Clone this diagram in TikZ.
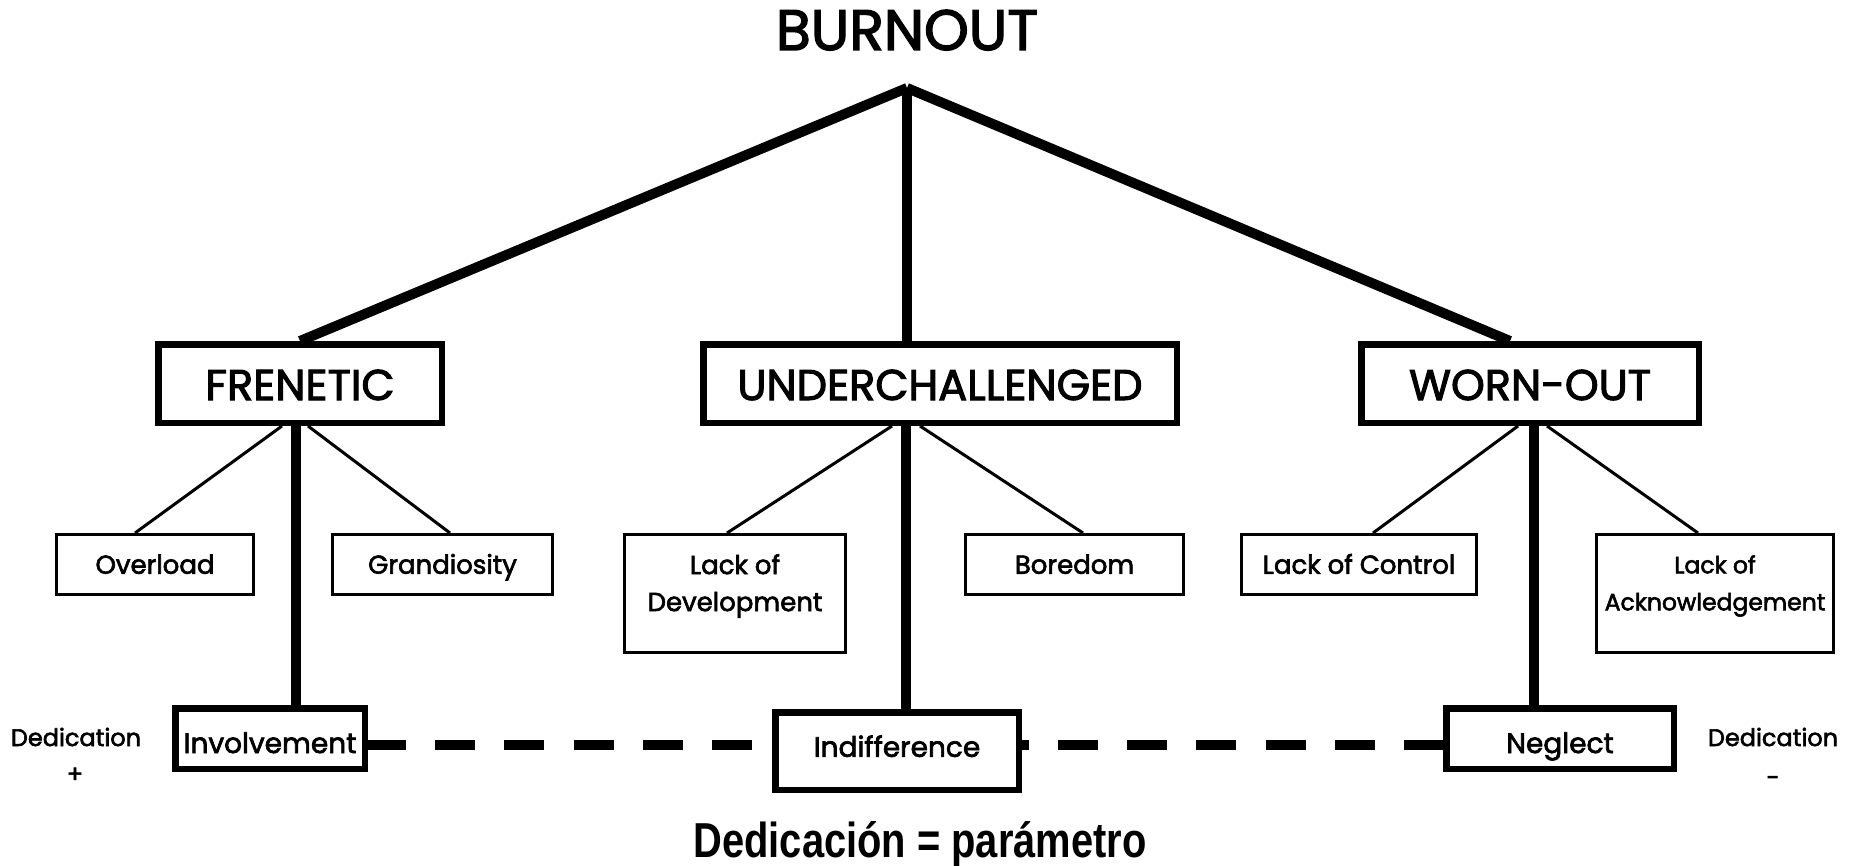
\documentclass[tikz,border=0pt]{standalone}
\usepackage{graphicx}
\usepackage{fontspec}
\setmainfont{Poppins}[FakeBold=2.4]
\newfontfamily\captionfont{Liberation Sans}
\usetikzlibrary{backgrounds}
\begin{document}
\begin{tikzpicture}[x=1pt,y=-1pt,
  heavybox/.style={draw, line width=6.5pt, fill=white, inner sep=0pt,
    text height=33pt, text depth=0pt, font=\fontsize{43}{47}\selectfont},
  causebox/.style={draw, line width=3pt, fill=white, inner sep=0pt,
    text height=18.5pt, text depth=0pt, font=\fontsize{26}{30}\selectfont},
  levelbox/.style={draw, line width=6.5pt, fill=white, inner sep=0pt,
    text height=29pt, text depth=0pt, font=\fontsize{28}{32}\selectfont},
  boxtext/.style={inner sep=0pt, align=center, font=\fontsize{26}{37}\selectfont},
  trunk/.style={line width=10pt},
  branch/.style={line width=3pt},
  scaleline/.style={line width=10pt, dash pattern=on 40pt off 29.2pt, dash phase=2pt},
  sidelabel/.style={inner sep=0pt, font=\fontsize{24}{28}\selectfont},
]
\useasboundingbox (0,0) rectangle (1854,866);

% title and apex of the tree
\node[inner sep=0pt, anchor=base, font=\fontsize{57}{62}\selectfont] (burnout) at (907,50) {BURNOUT};
\coordinate (apex) at (907,88);

% the three burnout subtypes
\node[heavybox, minimum width=283.5pt, minimum height=78.5pt] (fren)  at (300,383.5) {FRENETIC};
\node[heavybox, minimum width=473.5pt, minimum height=78.5pt] (under) at (940,383.5) {UNDERCHALLENGED};
\node[heavybox, minimum width=337.5pt, minimum height=78.5pt] (worn)  at (1530,383.5) {WORN-OUT};

% causes
\node[causebox, minimum width=197pt, minimum height=60pt] (over)  at (155,564.5) {Overload};
\node[causebox, minimum width=220pt, minimum height=60pt] (grand) at (442.5,564.5) {Grandiosity};
\node[causebox, minimum width=221pt, minimum height=118pt] (lackdev) at (735,593.5) {};
\node[boxtext] (lackdevtext) at (735,586) {Lack of\\Development};
\node[causebox, minimum width=218pt, minimum height=60pt] (bore) at (1074.5,564.5) {Boredom};
\node[causebox, minimum width=235pt, minimum height=60pt] (lackctl) at (1359,564.5) {Lack of Control};
\node[causebox, minimum width=237pt, minimum height=118pt] (lackack) at (1715,593.5) {};
\node[boxtext, font=\fontsize{23.5}{37}\selectfont] (lackacktext) at (1715,586) {Lack of\\Acknowledgement};

% coping styles along the dedication scale
\node[levelbox, minimum width=189.5pt, minimum height=60.5pt] (inv) at (270,738.5) {Involvement};
\node[levelbox, minimum width=243.5pt, minimum height=77.5pt,
  text height=20pt, text depth=8.4pt] (indif) at (897,751) {Indifference};
\node[levelbox, minimum width=227.5pt, minimum height=60.5pt] (neg) at (1560,738.5) {Neglect};

% scale ends
\node[sidelabel] (dedl) at (76,737) {Dedication};
\node[sidelabel] (plus) at (75,775) {+};
\node[sidelabel] (dedr) at (1773,737) {Dedication};
\node[sidelabel] (minus) at (1773,781) {-};

% caption
\node[inner sep=0pt, anchor=base] (param) at (920,857)
  {\resizebox{453pt}{36pt}{\captionfont\bfseries Dedicación = parámetro}};

% stems below the subtype boxes
\coordinate (fstem) at ([xshift=-4pt]fren.south);
\coordinate (ustem) at ([xshift=-34pt]under.south);
\coordinate (wstem) at ([xshift=4pt]worn.south);

\begin{scope}[on background layer]
  \draw[trunk] (apex) -- (fren.north);
  \draw[trunk] (apex) -- (apex |- under.north);
  \draw[trunk] (apex) -- ([xshift=-20pt]worn.north);

  \draw[branch] ([xshift=-18pt]fren.south) -- ([xshift=-20pt]over.north);
  \draw[branch] ([xshift=8pt]fren.south) -- ([xshift=7.5pt]grand.north);
  \draw[branch] ([xshift=-48pt]under.south) -- ([xshift=-8pt]lackdev.north);
  \draw[branch] ([xshift=-20pt]under.south) -- ([xshift=8.5pt]bore.north);
  \draw[branch] ([xshift=-12pt]worn.south) -- ([xshift=14pt]lackctl.north);
  \draw[branch] ([xshift=17pt]worn.south) -- ([xshift=-17pt]lackack.north);

  \draw[trunk] (fstem) -- (fstem |- inv.north);
  \draw[trunk] (ustem) -- (ustem |- indif.north);
  \draw[trunk] (wstem) -- (wstem |- neg.north);

  \draw[scaleline] ([yshift=-6pt]inv.east) -- ([yshift=-6pt]neg.west);
\end{scope}
\end{tikzpicture}
\end{document}
